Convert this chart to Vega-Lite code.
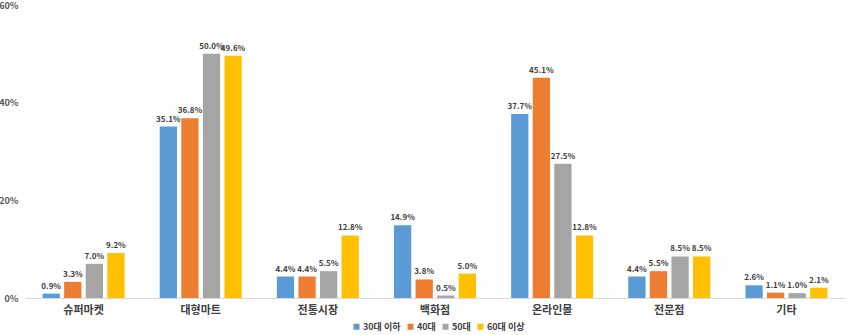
{
  "$schema": "https://vega.github.io/schema/vega-lite/v6.json",
  "width": 820,
  "height": 293,
  "autosize": "none",
  "padding": {"left": 25, "top": 5, "right": 5, "bottom": 37},
  "background": "white",
  "config": {
    "view": {"stroke": null},
    "font": "Noto Sans CJK KR"
  },
  "data": {
    "values": [
      {"cat": "슈퍼마켓", "age": "30대 이하", "v": 0.9},
      {"cat": "슈퍼마켓", "age": "40대", "v": 3.3},
      {"cat": "슈퍼마켓", "age": "50대", "v": 7.0},
      {"cat": "슈퍼마켓", "age": "60대 이상", "v": 9.2},
      {"cat": "대형마트", "age": "30대 이하", "v": 35.1},
      {"cat": "대형마트", "age": "40대", "v": 36.8},
      {"cat": "대형마트", "age": "50대", "v": 50.0},
      {"cat": "대형마트", "age": "60대 이상", "v": 49.6},
      {"cat": "전통시장", "age": "30대 이하", "v": 4.4},
      {"cat": "전통시장", "age": "40대", "v": 4.4},
      {"cat": "전통시장", "age": "50대", "v": 5.5},
      {"cat": "전통시장", "age": "60대 이상", "v": 12.8},
      {"cat": "백화점", "age": "30대 이하", "v": 14.9},
      {"cat": "백화점", "age": "40대", "v": 3.8},
      {"cat": "백화점", "age": "50대", "v": 0.5},
      {"cat": "백화점", "age": "60대 이상", "v": 5.0},
      {"cat": "온라인몰", "age": "30대 이하", "v": 37.7},
      {"cat": "온라인몰", "age": "40대", "v": 45.1},
      {"cat": "온라인몰", "age": "50대", "v": 27.5},
      {"cat": "온라인몰", "age": "60대 이상", "v": 12.8},
      {"cat": "전문점", "age": "30대 이하", "v": 4.4},
      {"cat": "전문점", "age": "40대", "v": 5.5},
      {"cat": "전문점", "age": "50대", "v": 8.5},
      {"cat": "전문점", "age": "60대 이상", "v": 8.5},
      {"cat": "기타", "age": "30대 이하", "v": 2.6},
      {"cat": "기타", "age": "40대", "v": 1.1},
      {"cat": "기타", "age": "50대", "v": 1.0},
      {"cat": "기타", "age": "60대 이상", "v": 2.1}
    ]
  },
  "encoding": {
    "x": {
      "field": "cat", "type": "nominal", "sort": null, "title": null,
      "scale": {"paddingInner": 0.3, "paddingOuter": 0.15},
      "axis": {
        "labelAngle": 0, "labelFontSize": 11, "labelFontWeight": "bold", "labelColor": "#404040",
        "domainColor": "#D9D9D9", "domainWidth": 1, "ticks": false, "labelPadding": 6
      }
    },
    "xOffset": {
      "field": "age", "type": "nominal", "sort": ["30대 이하", "40대", "50대", "60대 이상"],
      "scale": {"paddingInner": 0.2, "paddingOuter": 0}
    },
    "y": {
      "field": "v", "type": "quantitative", "title": null,
      "scale": {"domain": [0, 60], "nice": false},
      "axis": {
        "values": [0, 20, 40, 60], "labelExpr": "datum.value + '%'", "grid": false, "domain": false, "ticks": false,
        "labelFontSize": 9, "labelFontWeight": "bold", "labelColor": "#595959", "labelPadding": 7
      }
    }
  },
  "layer": [
    {
      "mark": {"type": "bar"},
      "encoding": {
        "color": {
          "field": "age", "type": "nominal", "sort": ["30대 이하", "40대", "50대", "60대 이상"],
          "scale": {"domain": ["30대 이하", "40대", "50대", "60대 이상"], "range": ["#5B9BD5", "#ED7D31", "#A5A5A5", "#FFC000"]},
          "legend": {
            "orient": "none", "legendX": 327, "legendY": 317, "direction": "horizontal", "title": null,
            "symbolType": "square", "symbolSize": 36, "symbolStrokeWidth": 0,
            "labelFontSize": 9, "labelFontWeight": "bold", "labelColor": "#404040",
            "columnPadding": 5, "labelOffset": 2, "padding": 0
          }
        }
      }
    },
    {
      "mark": {"type": "text", "dy": -7, "fontSize": 8, "fontWeight": "bold", "color": "#404040",
               "text": {"expr": "format(datum.v, '.1f') + '%'"}},
      "encoding": {
        "detail": {"field": "age"}
      }
    }
  ]
}
